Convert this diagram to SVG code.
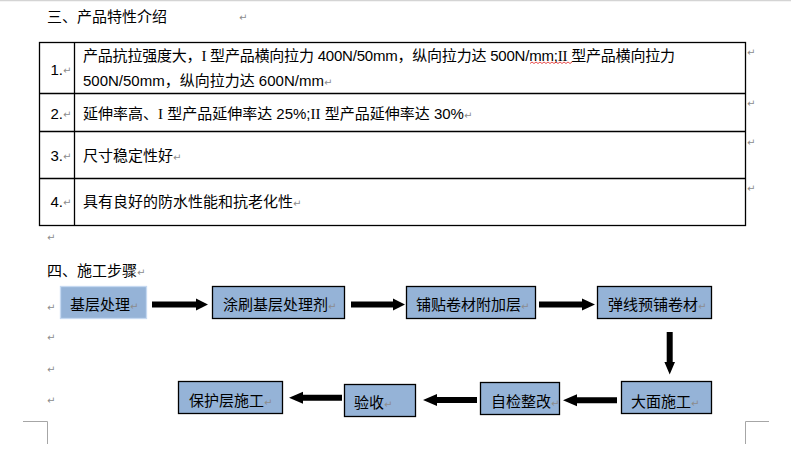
<svg xmlns="http://www.w3.org/2000/svg" width="791" height="468" viewBox="0 0 791 468">
<style>
text{font-family:"Liberation Sans","Noto Sans CJK SC",sans-serif;font-size:15px;fill:#000}
.pm{font-family:"DejaVu Sans",sans-serif;font-size:10px;fill:#8c8c8c}
.ser{font-family:"Liberation Serif","Noto Sans CJK SC",serif}
.tb{fill:none;stroke:#000;stroke-width:1.3}
.box{fill:#95b3d7;stroke:#000;stroke-width:1.3}
.box0{fill:#95b3d7;stroke:#c6d9f1;stroke-width:1.3}
.arr{fill:#000}
.crn{fill:none;stroke:#a6a6a6;stroke-width:1}
</style>
<rect x="0" y="0" width="791" height="468" fill="#fff"/>
<line x1="0" y1="0.5" x2="791" y2="0.5" stroke="#d4d4d4" stroke-width="1.5"/>
<text x="47" y="22">三、产品特性介绍</text>
<text class="pm" x="239" y="21">↵</text>
<g id="table">
<rect class="tb" x="39.5" y="42.5" width="706" height="183"/>
<line class="tb" x1="74.5" y1="42.5" x2="74.5" y2="225.5"/>
<line class="tb" x1="39.5" y1="93.5" x2="745.5" y2="93.5"/>
<line class="tb" x1="39.5" y1="131.5" x2="745.5" y2="131.5"/>
<line class="tb" x1="39.5" y1="178.5" x2="745.5" y2="178.5"/>
<text x="63" y="75" text-anchor="end">1.</text><text class="pm" x="63" y="74">↵</text>
<text x="63" y="119" text-anchor="end">2.</text><text class="pm" x="63" y="118">↵</text>
<text x="63" y="161" text-anchor="end">3.</text><text class="pm" x="63" y="160">↵</text>
<text x="63" y="207" text-anchor="end">4.</text><text class="pm" x="63" y="206">↵</text>
<text x="83" y="60.5" textLength="592" lengthAdjust="spacing">产品抗拉强度大，<tspan class="ser">I</tspan> 型产品横向拉力 400N/50mm，纵向拉力达 500N/mm;<tspan class="ser">II</tspan> 型产品横向拉力</text>
<text x="83" y="85.5">500N/50mm，纵向拉力达 600N/mm<tspan class="pm">↵</tspan></text>
<text x="83" y="119">延伸率高、<tspan class="ser">I</tspan> 型产品延伸率达 25%;<tspan class="ser">II</tspan> 型产品延伸率达 30%<tspan class="pm">↵</tspan></text>
<text x="83" y="160.5">尺寸稳定性好<tspan class="pm">↵</tspan></text>
<text x="83" y="207">具有良好的防水性能和抗老化性<tspan class="pm">↵</tspan></text>
<path d="M530,63.5 l2,-1.5 l2,1.5 l2,-1.5 l2,1.5 l2,-1.5 l2,1.5 l2,-1.5 l2,1.5 l2,-1.5 l2,1.5 l2,-1.5 l2,1.5 l2,-1.5 l2,1.5 l2,-1.5 l2,1.5 l2,-1.5 l2,1.5 l2,-1.5 l2,1.5 l2,-1.5" fill="none" stroke="#e02020" stroke-width="0.8"/>
<text class="pm" x="747" y="56">↵</text>
<text class="pm" x="747" y="107">↵</text>
<text class="pm" x="747" y="146">↵</text>
<text class="pm" x="747" y="192">↵</text>
</g>
<text class="pm" x="47" y="241">↵</text>
<text x="47" y="276">四、施工步骤<tspan class="pm">↵</tspan></text>
<text class="pm" x="47" y="311">↵</text>
<text class="pm" x="47" y="341">↵</text>
<text class="pm" x="47" y="373">↵</text>
<text class="pm" x="47" y="404">↵</text>
<g id="n1"><rect class="box0" x="60.5" y="286.5" width="86" height="32"/><text x="70" y="309.5">基层处理<tspan class="pm">↵</tspan></text></g>
<g id="n2"><rect class="box" x="212.5" y="286.5" width="132" height="32"/><text x="223" y="309.5">涂刷基层处理剂<tspan class="pm">↵</tspan></text></g>
<g id="n3"><rect class="box" x="406.5" y="286.5" width="129" height="32"/><text x="416" y="309.5">铺贴卷材附加层<tspan class="pm">↵</tspan></text></g>
<g id="n4"><rect class="box" x="597.5" y="286.5" width="114" height="32"/><text x="608" y="309.5">弹线预铺卷材<tspan class="pm">↵</tspan></text></g>
<g id="n5"><rect class="box" x="621.5" y="381.5" width="90" height="32"/><text x="631" y="406.5">大面施工<tspan class="pm">↵</tspan></text></g>
<g id="n6"><rect class="box" x="480.5" y="382.5" width="79" height="32"/><text x="491" y="406.5">自检整改<tspan class="pm">↵</tspan></text></g>
<g id="n7"><rect class="box" x="344.5" y="384.5" width="71" height="32"/><text x="354" y="407.5">验收<tspan class="pm">↵</tspan></text></g>
<g id="n8"><rect class="box" x="178.5" y="381.5" width="104" height="32"/><text x="189" y="405.5">保护层施工<tspan class="pm">↵</tspan></text></g>
<g id="connectors">
<polygon class="arr" points="152,301.5 196,301.5 196,298.5 208,304.5 196,310.5 196,307.5 152,307.5"/>
<polygon class="arr" points="351,301.5 393,301.5 393,298.5 405,304.5 393,310.5 393,307.5 351,307.5"/>
<polygon class="arr" points="539,301.5 582,301.5 582,298.5 595,304.5 582,310.5 582,307.5 539,307.5"/>
<polygon class="arr" points="666.7,332 672.7,332 672.7,362 675,362 669.7,374.5 664.4,362 666.7,362"/>
<polygon class="arr" points="617,397.3 577,397.3 577,394.3 563,400.3 577,406.3 577,403.3 617,403.3"/>
<polygon class="arr" points="477,397 437,397 437,394 423,400 437,406 437,403 477,403"/>
<polygon class="arr" points="342,394.7 303,394.7 303,391.7 289,397.7 303,403.7 303,400.7 342,400.7"/>
</g>
<polyline class="crn" points="23,421.5 47.5,421.5 47.5,444"/>
<polyline class="crn" points="769,421.5 745.5,421.5 745.5,444"/>
</svg>
